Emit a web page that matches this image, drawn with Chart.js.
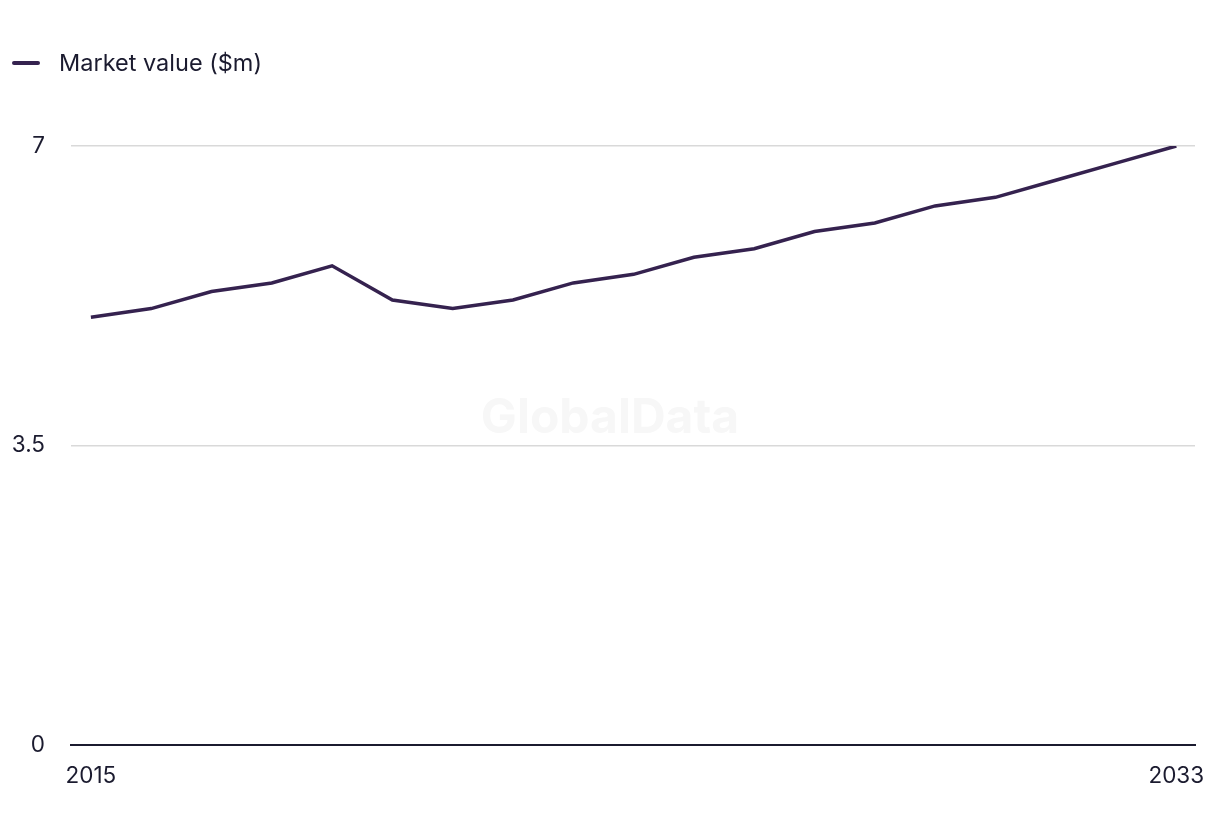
<!DOCTYPE html>
<html>
<head>
<meta charset="utf-8">
<script src="https://cdn.jsdelivr.net/npm/chart.js@4.4.1/dist/chart.umd.min.js"></script>
<style>
  html, body { margin: 0; padding: 0; background: #fff; }
  #wrap { position: relative; width: 1220px; height: 836px; }
  #legend { position: absolute; left: 12px; top: 48px; display: flex; align-items: center;
    font-family: Inter, "Noto Sans", sans-serif; font-size: 23.5px; color: #1b1b2f; }
  #legend .swatch { width: 28px; height: 4px; border-radius: 2px; background: #35224f; margin-right: 19px; }
</style>
</head>
<body>
<div id="wrap">
  <div id="legend"><span class="swatch"></span><span>Market value ($m)</span></div>
  <canvas id="chart" width="1220" height="836"></canvas>
</div>
<script>
// 数据
const years = [2015, 2016, 2017, 2018, 2019, 2020, 2021, 2022, 2023, 2024,
               2025, 2026, 2027, 2028, 2029, 2030, 2031, 2032, 2033];
const marketValue = [5.0, 5.1, 5.3, 5.4, 5.6, 5.2, 5.1, 5.2, 5.4, 5.5,
                     5.7, 5.8, 6.0, 6.1, 6.3, 6.4, 6.6, 6.8, 7.0];
const yTicks = [0, 3.5, 7];
const xTicks = [2015, 2033];

const textColor = '#1b1b2f';
const fontFamily = 'Inter, "Noto Sans", sans-serif';

// 水印
const watermark = {
    id: 'watermark',
    beforeDatasetsDraw(chart) {
        const ctx = chart.ctx;
        ctx.save();
        ctx.font = 'bold 48px ' + fontFamily;
        ctx.fillStyle = '#f7f7f7';
        ctx.textAlign = 'center';
        ctx.textBaseline = 'middle';
        ctx.fillText('GlobalData', 610, 419);
        ctx.restore();
    }
};

new Chart(document.getElementById('chart').getContext('2d'), {
    type: 'line',
    data: {
        datasets: [{
            label: 'Market value ($m)',
            data: years.map((y, i) => ({ x: y, y: marketValue[i] })),
            borderColor: '#35224f',
            backgroundColor: '#35224f',
            borderWidth: 3.5,
            pointRadius: 0,
            tension: 0,
            fill: false
        }]
    },
    options: {
        responsive: false,
        animation: false,
        layout: { padding: { top: 146, right: 25, left: 0, bottom: 0 } },
        plugins: {
            legend: { display: false },
            tooltip: { enabled: false }
        },
        scales: {
            x: {
                type: 'linear',
                min: 2014.67,
                max: 2033.31,
                afterBuildTicks(axis) {
                    axis.ticks = xTicks.map(v => ({ value: v }));
                },
                afterFit(axis) {
                    axis.height = 91;
                    axis.paddingLeft = 0;
                    axis.paddingRight = 0;
                },
                grid: { display: false, drawTicks: false },
                border: { display: true, color: '#1b1b2f', width: 2 },
                ticks: {
                    padding: 18,
                    maxRotation: 0,
                    autoSkip: false,
                    color: textColor,
                    font: { family: fontFamily, size: 22.5 },
                    callback: v => String(v)
                }
            },
            y: {
                min: 0,
                max: 7,
                afterBuildTicks(axis) {
                    axis.ticks = yTicks.map(v => ({ value: v }));
                },
                afterFit(axis) {
                    axis.width = 71;
                    axis.paddingTop = 0;
                    axis.paddingBottom = 0;
                },
                grid: { color: '#d9d9d9', lineWidth: 1.5, drawTicks: false },
                border: { display: false },
                ticks: {
                    padding: 26,
                    color: textColor,
                    font: { family: fontFamily, size: 22.5 },
                    callback: v => String(v)
                }
            }
        }
    },
    plugins: [watermark]
});
</script>
</body>
</html>
